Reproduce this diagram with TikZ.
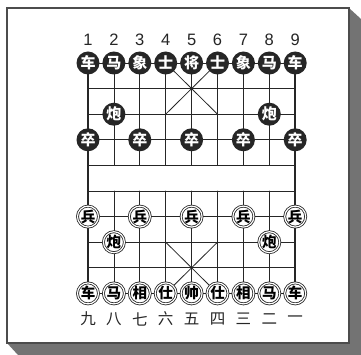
\documentclass[tikz,border=0pt]{standalone}
\usepackage{fontspec}
\newfontfamily\cjk{Noto Sans CJK SC}
\newfontfamily\numfont{Liberation Sans}

\begin{document}
\begin{tikzpicture}[
    x=1pt, y=-1pt, line cap=round,
    frame/.style  ={draw=black!70, fill=white, line width=1.2pt},
    shadow/.style ={fill=black!55},
    grid/.style   ={black!85, line width=0.8pt},
    edge/.style   ={black!85, line width=1.6pt},
    heiqi/.style  ={circle, fill=black!85, text=white, minimum size=23pt, inner sep=0pt,
                    font=\cjk\bfseries\fontsize{15}{15}\selectfont},
    hongqi/.style ={circle, draw=black!85, fill=white, line width=0.8pt, double=white,
                    double distance=1.2pt, minimum size=21pt, inner sep=0pt,
                    font=\cjk\bfseries\fontsize{14.5}{14.5}\selectfont},
    numlab/.style ={font=\numfont\fontsize{16.5}{16.5}\selectfont, text=black!85},
    cnlab/.style  ={font=\cjk\fontsize{15.5}{15.5}\selectfont, text=black!85}
]
\useasboundingbox (0,0) rectangle (361,355);

% frame with shadow
\fill[shadow] (349,8) -- (361,19) -- (361,355) -- (18,355) -- (7,343) -- (349,343) -- cycle;
\draw[frame] (7,8) rectangle (349,343);

% points of the board
\foreach \c in {0,...,8}
  \foreach \r in {0,...,9}
    \coordinate (p\c-\r) at ({88+25.9*\c},{63+25.6*\r});

% grid
\foreach \r in {0,...,9}
  \draw[grid] (p0-\r) -- (p8-\r);
\foreach \c in {1,...,7} {
  \draw[grid] (p\c-0) -- (p\c-4);
  \draw[grid] (p\c-5) -- (p\c-9);
}
\draw[edge] (p0-0) -- (p0-9);
\draw[edge] (p8-0) -- (p8-9);

% palaces
\draw[grid] (p3-0) -- (p5-2);
\draw[grid] (p5-0) -- (p3-2);
\draw[grid] (p3-7) -- (p5-9);
\draw[grid] (p5-7) -- (p3-9);

% black side
\foreach \c/\t in {0/车,1/马,2/象,3/士,4/将,5/士,6/象,7/马,8/车}
  \node[heiqi] (b\c-0) at (p\c-0) {\t};
\node[heiqi] (b1-2) at (p1-2) {炮};
\node[heiqi] (b7-2) at (p7-2) {炮};
\foreach \c in {0,2,4,6,8}
  \node[heiqi] (b\c-3) at (p\c-3) {卒};

% red side
\foreach \c in {0,2,4,6,8}
  \node[hongqi] (h\c-6) at (p\c-6) {兵};
\node[hongqi] (h1-7) at (p1-7) {炮};
\node[hongqi] (h7-7) at (p7-7) {炮};
\foreach \c/\t in {0/车,1/马,2/相,3/仕,4/帅,5/仕,6/相,7/马,8/车}
  \node[hongqi] (h\c-9) at (p\c-9) {\t};

% file numbers
\foreach \c/\t in {0/1,1/2,2/3,3/4,4/5,5/6,6/7,7/8,8/9}
  \node[numlab] (n\c) at ({88+25.9*\c},39.5) {\t};
\foreach \c/\t in {0/九,1/八,2/七,3/六,4/五,5/四,6/三,7/二,8/一}
  \node[cnlab] (m\c) at ({88+25.9*\c},319) {\t};
\end{tikzpicture}
\end{document}
